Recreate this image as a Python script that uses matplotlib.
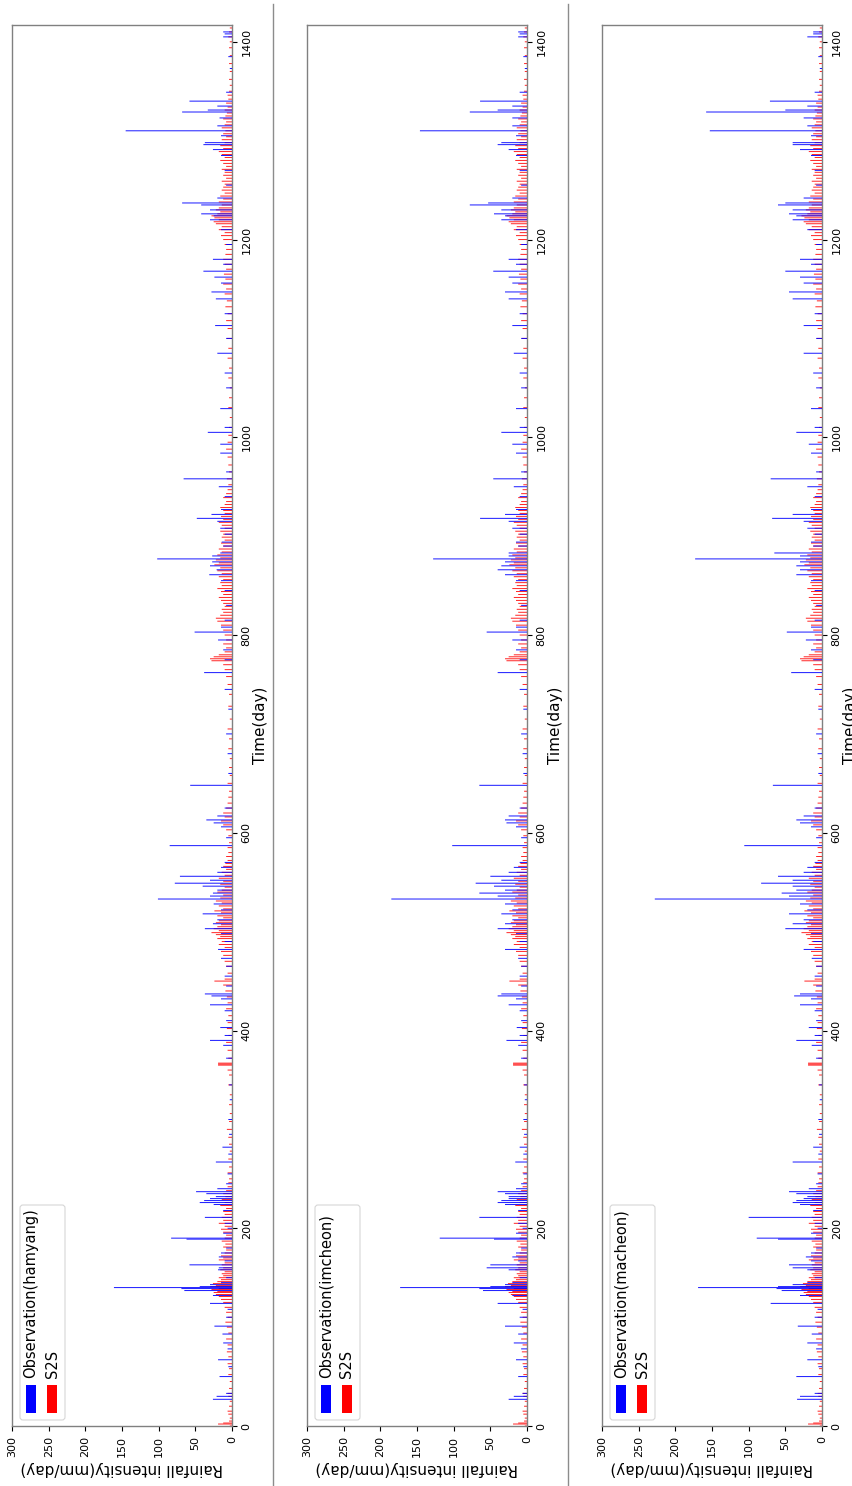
import matplotlib
matplotlib.use("Agg")
from matplotlib import pyplot as plt
from matplotlib.patches import FancyBboxPatch, Rectangle
from matplotlib.lines import Line2D

# stations (one panel each)
stations = ["hamyang", "imcheon", "macheon"]

# observed rainfall peaks (mm/day), same days for all three stations
obs_days = [27, 30, 33, 50, 60, 67, 78, 84, 93, 101, 110, 118, 124, 132, 137, 139, 140, 141, 143, 145,
            150, 158, 160, 163, 167, 171, 175, 180, 189, 190, 195, 200, 205, 211, 218, 224, 226, 228, 230, 232,
            235, 237, 240, 245, 255, 267, 275, 282, 295, 310, 330, 345, 372, 385, 390, 395, 403, 410, 420, 426,
            432, 435, 437, 445, 455, 465, 473, 482, 490, 498, 503, 508, 512, 518, 522, 528, 533, 536, 539, 542,
            546, 549, 552, 556, 560, 565, 570, 587, 595, 606, 610, 613, 617, 625, 648, 660, 680, 700, 725, 745,
            762, 775, 785, 795, 803, 808, 815, 830, 845, 855, 861, 866, 870, 874, 877, 880, 883, 890, 894, 902,
            908, 915, 918, 922, 927, 940, 950, 958, 965, 984, 993, 1005, 1010, 1029, 1050, 1065, 1085, 1100, 1113, 1125,
            1140, 1147, 1156, 1162, 1168, 1175, 1180, 1195, 1210, 1220, 1224, 1226, 1230, 1235, 1237, 1242, 1255, 1270, 1285, 1291,
            1296, 1298, 1305, 1310, 1315, 1323, 1329, 1331, 1335, 1340, 1349, 1373, 1385, 1405, 1408, 1410]

hamyang = [26, 21, 8, 17, 5, 19, 6, 12, 13, 24, 8, 6, 30, 26, 65, 69, 161, 44, 30, 15,
           8, 19, 18, 58, 10, 18, 15, 8, 62, 83, 12, 6, 10, 37, 12, 25, 44, 38, 30, 22,
           35, 49, 20, 8, 6, 22, 5, 13, 4, 5, 3, 4, 8, 12, 30, 10, 16, 8, 10, 30,
           15, 28, 37, 8, 10, 8, 15, 19, 10, 15, 37, 26, 20, 40, 15, 25, 101, 30, 26, 20,
           40, 78, 30, 71, 20, 15, 10, 85, 8, 15, 25, 35, 20, 10, 57, 5, 6, 8, 5, 10,
           38, 10, 12, 19, 51, 15, 10, 8, 10, 15, 31, 21, 30, 27, 102, 27, 16, 12, 14, 10,
           16, 20, 48, 28, 15, 10, 18, 66, 8, 16, 16, 33, 10, 16, 8, 10, 20, 8, 23, 10,
           22, 28, 15, 24, 39, 12, 26, 8, 15, 30, 25, 42, 30, 42, 68, 20, 8, 10, 15, 26,
           39, 37, 15, 145, 20, 17, 68, 33, 20, 58, 8, 3, 5, 12, 10, 12]

imcheon = [25, 18, 6, 12, 5, 15, 8, 18, 12, 30, 10, 6, 40, 20, 60, 65, 173, 50, 30, 20,
           10, 25, 55, 50, 12, 20, 15, 8, 45, 119, 15, 6, 12, 65, 12, 30, 40, 35, 25, 25,
           30, 40, 15, 8, 5, 16, 5, 10, 4, 5, 3, 4, 8, 12, 28, 10, 14, 8, 10, 25,
           15, 40, 35, 8, 10, 8, 12, 30, 10, 15, 40, 30, 20, 35, 20, 30, 185, 40, 65, 30,
           45, 70, 35, 50, 25, 18, 10, 102, 8, 15, 28, 30, 25, 10, 65, 5, 6, 8, 5, 10,
           40, 10, 15, 20, 55, 15, 10, 8, 10, 15, 30, 40, 35, 30, 128, 25, 25, 12, 15, 10,
           20, 25, 64, 30, 15, 10, 18, 46, 8, 15, 20, 35, 10, 15, 8, 10, 18, 8, 20, 10,
           25, 30, 20, 25, 46, 15, 25, 8, 15, 35, 30, 45, 35, 78, 53, 20, 8, 10, 15, 25,
           40, 35, 15, 146, 20, 20, 78, 40, 20, 64, 10, 3, 5, 12, 10, 12]

macheon = [34, 30, 10, 35, 5, 20, 8, 20, 14, 33, 10, 6, 70, 30, 55, 62, 169, 60, 40, 20,
           10, 20, 40, 45, 15, 22, 15, 8, 60, 89, 15, 6, 10, 100, 12, 30, 40, 35, 25, 20,
           35, 45, 18, 8, 6, 40, 5, 12, 4, 5, 3, 4, 8, 14, 35, 10, 18, 8, 10, 30,
           15, 38, 30, 8, 10, 8, 14, 25, 12, 15, 50, 40, 25, 45, 20, 30, 228, 45, 55, 35,
           40, 83, 40, 60, 25, 20, 10, 106, 8, 15, 30, 35, 25, 10, 67, 5, 6, 8, 5, 10,
           42, 12, 15, 22, 48, 15, 10, 8, 10, 15, 35, 30, 35, 30, 173, 30, 65, 12, 15, 10,
           20, 25, 68, 40, 15, 10, 20, 70, 8, 15, 18, 35, 10, 15, 8, 12, 25, 8, 25, 10,
           40, 45, 25, 30, 50, 15, 30, 8, 20, 40, 35, 45, 40, 60, 50, 25, 8, 10, 15, 30,
           40, 40, 15, 153, 20, 25, 158, 50, 20, 71, 10, 3, 5, 20, 12, 12]

# S2S forecast rainfall (mm/day), shared by the three panels
s2s_days = [0, 2, 3, 5, 8, 12, 15, 20, 25, 30, 33, 38, 45, 52, 58, 63, 70, 75, 82, 88,
            94, 100, 105, 110, 115, 120, 125, 128, 131, 133, 135, 136, 138, 139, 141, 142, 144, 146, 148, 150,
            152, 154, 156, 158, 160, 163, 165, 168, 170, 172, 175, 178, 181, 184, 187, 190, 193, 196, 199, 202,
            205, 208, 211, 214, 217, 220, 223, 226, 229, 232, 235, 238, 242, 246, 250, 256, 262, 270, 278, 285,
            292, 300, 308, 316, 325, 335, 345, 355, 360, 365, 366, 367, 372, 380, 388, 395, 402, 408, 415, 422,
            428, 434, 440, 446, 450, 452, 458, 465, 470, 476, 480, 484, 487, 490, 493, 495, 497, 499, 501, 503,
            505, 507, 509, 511, 514, 516, 519, 521, 523, 526, 529, 531, 534, 537, 540, 542, 545, 548, 551, 554,
            557, 560, 563, 566, 569, 572, 576, 580, 585, 590, 597, 603, 608, 612, 616, 620, 625, 630, 636, 642,
            650, 658, 666, 675, 685, 695, 705, 715, 728, 740, 750, 758, 765, 770, 774, 776, 778, 780, 783, 787,
            791, 795, 800, 805, 810, 814, 817, 820, 823, 826, 829, 832, 835, 838, 841, 844, 847, 850, 853, 856,
            859, 862, 865, 868, 871, 873, 876, 878, 881, 884, 887, 890, 893, 896, 899, 902, 905, 908, 911, 914,
            917, 920, 923, 926, 929, 932, 935, 939, 943, 947, 952, 958, 965, 972, 980, 988, 995, 1002, 1010, 1020,
            1030, 1040, 1050, 1060, 1070, 1080, 1090, 1100, 1110, 1118, 1125, 1132, 1138, 1145, 1150, 1155, 1160, 1165, 1170, 1175,
            1180, 1185, 1190, 1195, 1200, 1204, 1207, 1210, 1213, 1216, 1218, 1220, 1222, 1224, 1226, 1228, 1230, 1232, 1235, 1238,
            1241, 1244, 1247, 1250, 1253, 1256, 1259, 1262, 1265, 1268, 1271, 1274, 1277, 1280, 1283, 1286, 1289, 1292, 1295, 1298,
            1301, 1304, 1307, 1310, 1313, 1316, 1319, 1322, 1325, 1328, 1331, 1334, 1338, 1342, 1346, 1350, 1356, 1362, 1370, 1378,
            1386, 1394, 1400, 1405, 1410, 1414]

s2s_rain = [3, 19, 12, 4, 3, 5, 6, 4, 3, 5, 6, 4, 3, 5, 4, 6, 5, 7, 6, 8,
            5, 7, 9, 6, 8, 10, 12, 15, 18, 22, 25, 20, 28, 18, 30, 22, 26, 20, 15, 18,
            12, 14, 10, 16, 12, 14, 10, 18, 12, 15, 10, 8, 12, 9, 14, 10, 8, 12, 15, 10,
            18, 12, 14, 10, 12, 8, 16, 10, 14, 9, 12, 8, 6, 5, 4, 6, 4, 5, 3, 4,
            5, 7, 4, 3, 4, 3, 5, 4, 6, 19, 19, 19, 5, 6, 8, 5, 7, 6, 5, 8,
            6, 7, 9, 12, 24, 10, 6, 8, 10, 12, 15, 10, 18, 14, 20, 16, 22, 28, 18, 25,
            20, 15, 22, 18, 12, 20, 15, 24, 12, 18, 14, 22, 16, 12, 20, 14, 10, 16, 12, 18,
            10, 14, 8, 12, 9, 6, 8, 5, 6, 4, 5, 8, 12, 15, 10, 12, 8, 6, 5, 4,
            6, 3, 4, 3, 5, 4, 6, 3, 5, 4, 6, 8, 10, 12, 28, 30, 25, 18, 10, 8,
            12, 8, 10, 12, 15, 20, 22, 16, 12, 14, 10, 12, 15, 18, 12, 15, 20, 14, 16, 12,
            18, 14, 20, 16, 24, 18, 22, 16, 20, 14, 18, 12, 15, 10, 14, 12, 16, 10, 14, 18,
            12, 15, 10, 12, 16, 10, 8, 12, 8, 6, 5, 7, 4, 5, 6, 8, 6, 5, 4, 3,
            5, 4, 3, 5, 4, 6, 5, 7, 6, 8, 6, 9, 7, 10, 8, 12, 9, 11, 8, 10,
            12, 9, 8, 10, 12, 15, 10, 18, 14, 22, 25, 18, 24, 28, 20, 16, 22, 18, 14, 18,
            12, 16, 10, 14, 12, 10, 14, 8, 12, 10, 14, 8, 12, 16, 10, 14, 18, 12, 16, 10,
            14, 8, 12, 9, 14, 10, 8, 12, 9, 7, 10, 6, 8, 5, 6, 4, 3, 4, 3, 4,
            3, 4, 3, 5, 4, 3]

obs_series = {"hamyang": hamyang, "imcheon": imcheon, "macheon": macheon}
n_days = 1417

W, H = 853, 1486
fig = plt.figure(figsize=(W / 100, H / 100), dpi=100)

for i, name in enumerate(stations):
    off = 295 * i
    ax = fig.add_axes([(12 + off) / W, (H - 1426) / H, 220 / W, 1401 / H])
    ax.barh(s2s_days, s2s_rain, height=1.0, color="#ff0000", alpha=0.85, linewidth=0,
            snap=False, zorder=2)
    ax.barh(obs_days, obs_series[name], height=1.0, color="#0000ff", alpha=0.9, linewidth=0,
            snap=False, zorder=3)
    ax.set_xlim(300, 0)
    ax.set_ylim(0, n_days)
    ax.set_xticks([300, 250, 200, 150, 100, 50, 0])
    ax.set_yticks(range(0, 1401, 200))
    ax.yaxis.tick_right()
    ax.yaxis.set_label_position("right")
    ax.tick_params(axis="both", labelsize=8)
    ax.tick_params(axis="x", labelrotation=90)
    ax.tick_params(axis="y", labelrotation=90)
    for lab in ax.get_yticklabels():
        lab.set_va("center")
    for s in ax.spines.values():
        s.set_color("0.5")
        s.set_linewidth(1.0)
    ax.set_xlabel("Rainfall intensity(mm/day)", fontsize=11, rotation=180, labelpad=3)
    ax.set_ylabel("Time(day)", fontsize=11, rotation=90, labelpad=1)

    # legend drawn by hand so it turns with the axes
    tr = fig.dpi_scale_trans
    x0 = off / 100
    box = FancyBboxPatch((x0 + 0.20, 0.66), 0.45, 2.15, boxstyle="round,pad=0,rounding_size=0.03",
                         transform=tr, facecolor="white", edgecolor="0.8", linewidth=0.8,
                         alpha=0.8, zorder=5, clip_on=False)
    ax.add_patch(box)
    ax.add_patch(Rectangle((x0 + 0.26, 0.73), 0.10, 0.28, transform=tr, facecolor="#0000ff",
                           zorder=6, clip_on=False))
    ax.add_patch(Rectangle((x0 + 0.47, 0.73), 0.10, 0.28, transform=tr, facecolor="#ff0000",
                           zorder=6, clip_on=False))
    ax.text(x0 + 0.31, 1.08, "Observation(%s)" % name, transform=tr, rotation=90,
            ha="center", va="bottom", fontsize=10.5, zorder=7)
    ax.text(x0 + 0.52, 1.08, "S2S", transform=tr, rotation=90,
            ha="center", va="bottom", fontsize=10.5, zorder=7)

# grey separators between the panels
for xs in [273, 568]:
    fig.add_artist(Line2D([xs / W, xs / W], [0, 1 - 4 / H], color="0.55", linewidth=1.0))

fig.savefig("out.png", dpi=100)
